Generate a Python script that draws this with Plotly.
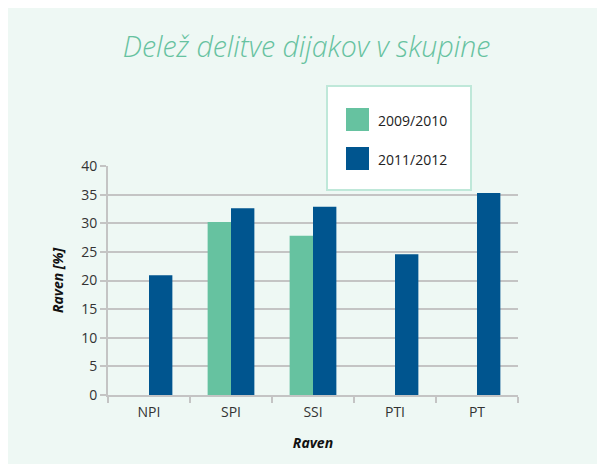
import plotly.graph_objects as go

# ---- data ----
categories = ["NPI", "SPI", "SSI", "PTI", "PT"]
series_names = ["2009/2010", "2011/2012"]
values_2009 = [None, 30.2, 27.8, None, None]
values_2011 = [20.9, 32.6, 32.9, 24.6, 35.3]
y_ticks = [0, 5, 10, 15, 20, 25, 30, 35, 40]

# ---- styles ----
GREEN = "#66c2a0"
BLUE = "#00558f"
PANEL = "#eef8f4"
GRID = "#c4c4c4"
OFF = 8  # page body margin offset
W, H = 605 - OFF, 464 - OFF
L, R, T, B = 108 - OFF, 518 - OFF, 166 - OFF, 395 - OFF  # plot area in figure pixels


def px_x(px):
    return (px - OFF - L) / (R - L)


def px_y(py):
    return (B - (py - OFF)) / (B - T)


fig = go.Figure()
fig.add_trace(go.Bar(x=categories, y=values_2009, name=series_names[0],
                     marker=dict(color=GREEN, line=dict(width=0)), showlegend=False))
fig.add_trace(go.Bar(x=categories, y=values_2011, name=series_names[1],
                     marker=dict(color=BLUE, line=dict(width=0)), showlegend=False))

shapes = [
    # legend box
    dict(type="rect", xref="paper", yref="paper", x0=px_x(327), x1=px_x(471), y0=px_y(190), y1=px_y(86),
         fillcolor="white", line=dict(color="#bfe8d9", width=2), layer="above"),
]
annotations = []
for i, (name, col) in enumerate(zip(series_names, [GREEN, BLUE])):
    top = 108 + i * 39
    shapes.append(dict(type="rect", xref="paper", yref="paper",
                       x0=px_x(346), x1=px_x(369), y0=px_y(top + 23), y1=px_y(top),
                       fillcolor=col, line=dict(width=0), layer="above"))
    annotations.append(dict(xref="paper", yref="paper", x=px_x(376), y=px_y(top + 12),
                            text=name, showarrow=False, xanchor="left", yanchor="middle",
                            font=dict(family="Open Sans", size=14, color="#222222")))

fig.update_layout(
    width=W, height=H,
    margin=dict(l=L, r=W - R, t=T, b=H - B, autoexpand=False),
    paper_bgcolor=PANEL,
    plot_bgcolor=PANEL,
    barmode="group",
    bargap=0.43,
    bargroupgap=0,
    showlegend=False,
    title=dict(text="<i>Delež delitve dijakov v skupine</i>",
               x=0.5, xanchor="center", xref="container",
               y=1 - (47 - OFF) / H, yanchor="middle", yref="container",
               font=dict(family="Open Sans", size=28.5, color=GREEN, weight=300)),
    font=dict(family="Open Sans", size=14, color="#333333"),
    shapes=shapes,
    annotations=annotations,
    xaxis=dict(
        type="category",
        tickson="boundaries",
        ticks="outside", ticklen=6, tickcolor=GRID, tickwidth=2,
        showline=True, linecolor=GRID, linewidth=2,
        showgrid=False,
        ticklabelstandoff=3,
        tickfont=dict(size=14, color="#333333"),
        title=dict(text="<b><i>Raven</i></b>", font=dict(size=14, color="#111111"), standoff=18),
    ),
    yaxis=dict(
        range=[0, 40],
        tickvals=y_ticks,
        ticks="outside", ticklen=6, tickcolor=GRID, tickwidth=2,
        showline=True, linecolor=GRID, linewidth=2,
        showgrid=True, gridcolor=GRID, gridwidth=2,
        zeroline=False,
        tickfont=dict(size=14, color="#333333"),
        title=dict(text="<b><i>Raven [%]</i></b>", font=dict(size=14, color="#111111"), standoff=14),
    ),
)

fig.write_html("out.html")
